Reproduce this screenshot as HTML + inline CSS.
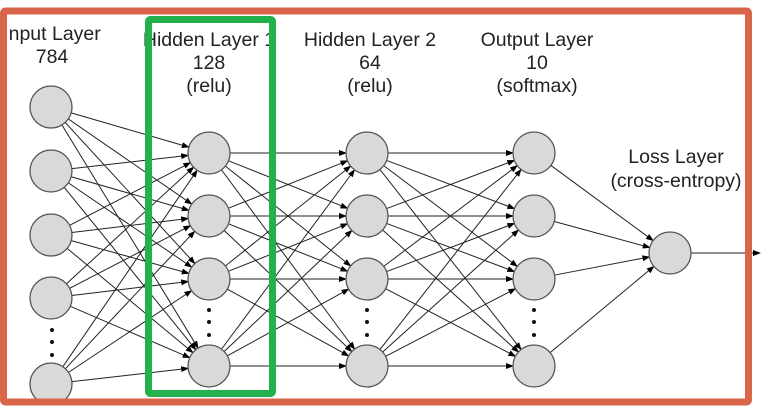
<!DOCTYPE html>
<html><head><style>body{margin:0;background:#fff}svg{display:block}text{font-family:"Liberation Sans",sans-serif;font-size:19.5px;fill:#222;text-anchor:middle}</style></head>
<body>
<svg width="761" height="408" viewBox="0 0 761 408" xmlns="http://www.w3.org/2000/svg">
<defs><marker id="a" markerWidth="8" markerHeight="8" refX="7" refY="4" orient="auto" markerUnits="userSpaceOnUse"><path d="M0,1 L8,4 L0,7z" fill="#000"/></marker></defs>
<g id="edges" stroke="#222" stroke-width="1" fill="none"></g>
<g id="nodes" fill="#d9d9d9" stroke="#555" stroke-width="1.3"></g>
<g fill="#111">
<circle cx="209" cy="310" r="2"/><circle cx="209" cy="322" r="2"/><circle cx="209" cy="335" r="2"/>
<circle cx="367" cy="310" r="2"/><circle cx="367" cy="322" r="2"/><circle cx="367" cy="335" r="2"/>
<circle cx="534" cy="310" r="2"/><circle cx="534" cy="322" r="2"/><circle cx="534" cy="335" r="2"/>
<circle cx="52" cy="330" r="2"/><circle cx="52" cy="342" r="2"/><circle cx="52" cy="355" r="2"/>
</g>
<text x="52" y="40">Input Layer</text><text x="52" y="63">784</text>
<text x="209" y="46">Hidden Layer 1</text><text x="209" y="69">128</text><text x="209" y="92">(relu)</text>
<text x="370" y="46">Hidden Layer 2</text><text x="370" y="69">64</text><text x="370" y="92">(relu)</text>
<text x="537" y="46">Output Layer</text><text x="537" y="69">10</text><text x="537" y="92">(softmax)</text>
<text x="676" y="163">Loss Layer</text><text x="676" y="187">(cross-entropy)</text>
<rect x="3.5" y="11" width="745" height="391" fill="none" stroke="#d9654a" stroke-width="7" rx="2"/>
<rect x="148.5" y="19.5" width="124" height="374" fill="none" stroke="#22b14c" stroke-width="7" rx="2"/>
</svg>
<script>
var E=document.getElementById('edges'),N=document.getElementById('nodes'),ns='http://www.w3.org/2000/svg';
var r=21,L=[[51,[107,171,235,298,384]],[209,[153,216,279,366]],[367,[153,216,279,366]],[534,[153,216,279,366]],[670,[253]]];
function ln(x1,y1,x2,y2){var l=document.createElementNS(ns,'line');var dx=x2-x1,dy=y2-y1,d=Math.hypot(dx,dy);
l.setAttribute('x1',x1+dx/d*r);l.setAttribute('y1',y1+dy/d*r);l.setAttribute('x2',x2-dx/d*r);l.setAttribute('y2',y2-dy/d*r);l.setAttribute('marker-end','url(#a)');E.appendChild(l);}
for(var i=0;i<L.length-1;i++)L[i][1].forEach(function(a){L[i+1][1].forEach(function(b){ln(L[i][0],a,L[i+1][0],b);});});
var l=document.createElementNS(ns,'line');l.setAttribute('x1',691);l.setAttribute('y1',253);l.setAttribute('x2',760);l.setAttribute('y2',253);l.setAttribute('marker-end','url(#a)');E.appendChild(l);
L.forEach(function(c){c[1].forEach(function(y){var o=document.createElementNS(ns,'circle');o.setAttribute('cx',c[0]);o.setAttribute('cy',y);o.setAttribute('r',r);N.appendChild(o);});});
</script>
</body></html>
